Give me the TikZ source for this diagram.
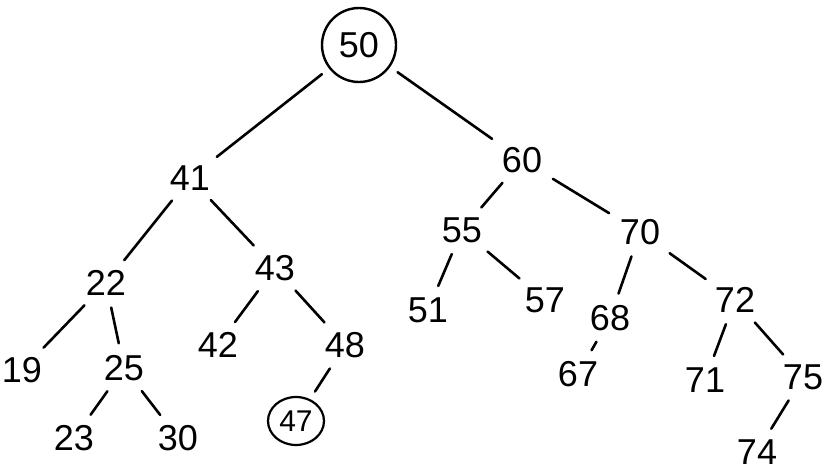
\documentclass[tikz,border=0pt]{standalone}
\usepackage{fontspec}
\setmainfont{Liberation Sans}
\usetikzlibrary{shapes.geometric}
\begin{document}
\begin{tikzpicture}[x=1pt,y=-1pt,
  num/.style={inner sep=3pt,font=\fontsize{36}{38}\selectfont},
  ring/.style={num,circle,draw,line width=2.4pt,minimum size=74pt,inner sep=0pt},
  oval/.style={num,ellipse,draw,line width=2.2pt,minimum width=56pt,minimum height=48pt,inner sep=0pt,font=\fontsize{30}{32}\selectfont},
  edge/.style={draw,line width=2.6pt,line cap=round,shorten <=9pt,shorten >=9pt}]
\useasboundingbox (0,0) rectangle (825,471);
\node[ring] (n50) at (359,45) {50};
\node[num] (n41) at (190,178) {41};
\node[num] (n60) at (522,160) {60};
\node[num] (n22) at (106,283) {22};
\node[num] (n43) at (275,268) {43};
\node[num] (n55) at (462,230) {55};
\node[num] (n70) at (640,232) {70};
\node[num] (n19) at (22,370) {19};
\node[num] (n25) at (124,368) {25};
\node[num] (n42) at (218,345) {42};
\node[num] (n48) at (345,345) {48};
\node[num] (n51) at (428,310) {51};
\node[num] (n57) at (545,300) {57};
\node[num] (n68) at (610,318) {68};
\node[num] (n72) at (735,300) {72};
\node[num] (n23) at (74,438) {23};
\node[num] (n30) at (178,438) {30};
\node[oval] (n47) at (296,421) {47};
\node[num] (n67) at (578,374) {67};
\node[num] (n71) at (705,380) {71};
\node[num] (n75) at (803,377) {75};
\node[num] (n74) at (757,452) {74};
\foreach \a/\b in {n50/n41,n50/n60,n41/n22,n41/n43,n22/n19,n22/n25,n25/n23,n25/n30,
  n43/n42,n43/n48,n48/n47,n60/n55,n60/n70,n55/n51,n55/n57,n70/n68,n70/n72,
  n68/n67,n72/n71,n72/n75,n75/n74}
  \path[edge] (\a) -- (\b);
\end{tikzpicture}
\end{document}
